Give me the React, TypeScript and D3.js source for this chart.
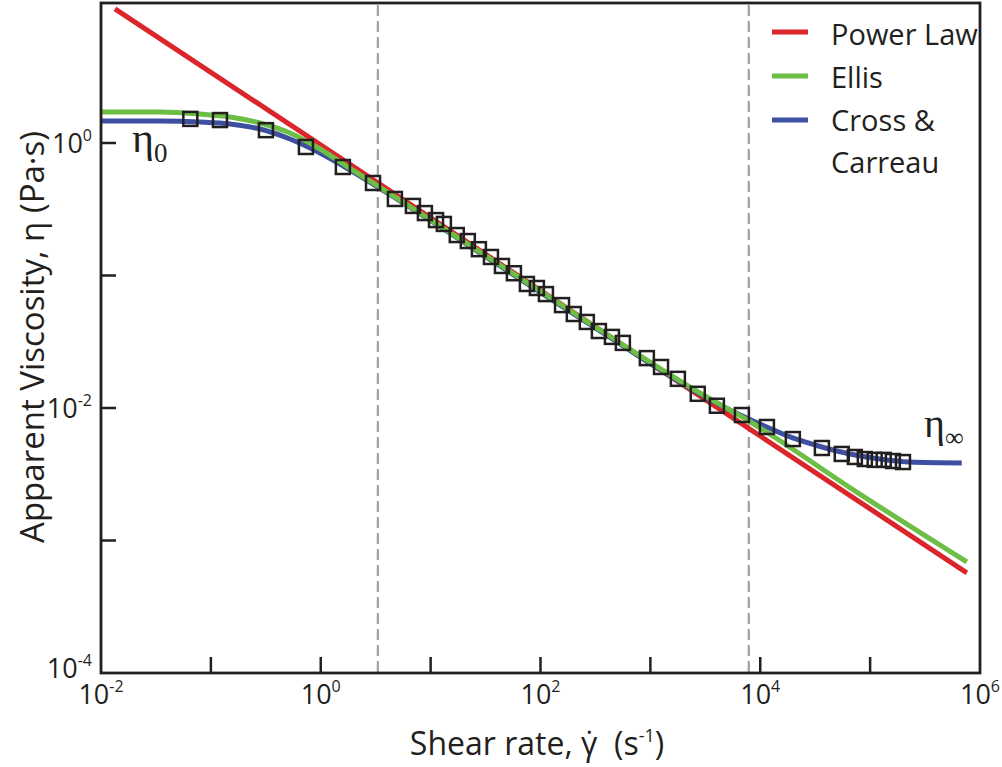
import React from "react";
import * as d3 from "d3";

// ---------- data ----------
const xTickValues = [0.1, 1, 10, 100, 1000, 1e4, 1e5];
const xLabelExps = [-2, 0, 2, 4, 6];
const yTickValues = [1, 0.1, 0.01, 0.001];
const yLabelExps = [0, -2, -4];

// measured data (shear rate, viscosity)
const dataShear = [
  0.065, 0.121, 0.317, 0.733, 1.59, 2.99, 4.73, 6.9, 8.87, 11.2, 13.2, 17.3, 21.8,
  27.5, 35.4, 44.6, 57.3, 75.2, 92.7, 112, 157, 201, 264, 340, 447, 562, 929, 1250,
  1780, 2700, 4030, 6810, 11500, 19800, 36400, 55200, 72600, 89500, 110000, 133000,
  161000, 199000,
];
const dataVisc = [
  1.52, 1.49, 1.25, 0.933, 0.659, 0.499, 0.378, 0.335, 0.296, 0.262, 0.245, 0.202,
  0.182, 0.158, 0.138, 0.118, 0.104, 0.0863, 0.0805, 0.0724, 0.0598, 0.0512, 0.0446,
  0.0381, 0.0344, 0.031, 0.0238, 0.0204, 0.0166, 0.0128, 0.0104, 0.00885, 0.00719,
  0.00583, 0.00499, 0.0045, 0.00427, 0.00412, 0.00406, 0.00406, 0.00398, 0.00391,
];

// Power law fit (straight in log-log)
const powerShear = [0.0134, 759000];
const powerVisc = [10.3, 0.000569];

// Ellis fit
const ellisShear = [0.01, 0.0344, 0.0796, 0.149, 0.28, 0.525, 0.984, 1.66, 5.26, 42.8, 348, 2820, 7870, 80500, 759000];
const ellisVisc = [1.714, 1.714, 1.655, 1.571, 1.416, 1.19, 0.901, 0.682, 0.371, 0.12, 0.0388, 0.013, 0.00798, 0.00224, 0.000689];

// Cross & Carreau fit
const crossShear = [0.01, 0.0344, 0.0796, 0.149, 0.28, 0.525, 0.984, 1.66, 5.26, 42.8, 348, 2820, 5280, 9910, 19800, 36400, 65500, 122000, 230000, 682000];
const crossVisc = [1.466, 1.466, 1.44, 1.391, 1.275, 1.072, 0.84, 0.659, 0.365, 0.118, 0.0381, 0.0128, 0.00966, 0.00757, 0.00594, 0.00508, 0.0045, 0.00412, 0.00391, 0.00385];

// regime boundaries (dashed)
const boundaries = [3.31, 7870];

const legendNames = ["Power Law", "Ellis", "Cross &"];
const legendColors = ["#da252a", "#6cbe45", "#3d4fa1"];

// ---------- layout ----------
const W = 1002;
const H = 767;
const left = 101;
const right = 980;
const top = 3;
const bottom = 673;

const x = d3.scaleLog().domain([1e-2, 1e6]).range([left, right]);
const y = d3.scaleLog().domain([1e-4, Math.pow(10, (bottom - top) / 132.5 - 4)]).range([bottom, top]);

const ink = "#231f20";
const font = "'Open Sans', 'Noto Sans', sans-serif";
const serif = "'Liberation Serif', 'DejaVu Serif', serif";

const zip = (a: number[], b: number[]) => a.map((v, i) => [v, b[i]] as [number, number]);

const line = d3
  .line<[number, number]>()
  .x((d) => x(d[0]))
  .y((d) => y(d[1]))
  .curve(d3.curveMonotoneX);

export default function App() {
  const series = [
    { pts: zip(powerShear, powerVisc), color: legendColors[0] },
    { pts: zip(crossShear, crossVisc), color: legendColors[2] },
    { pts: zip(ellisShear, ellisVisc), color: legendColors[1] },
  ];
  const data = zip(dataShear, dataVisc);
  const sq = 14;
  return (
    <svg
      width={W}
      height={H}
      style={{ position: "absolute", left: 0, top: 0, background: "#fff" }}
      fontFamily={font}
    >
      {/* dashed boundaries */}
      {boundaries.map((b, i) => (
        <line
          key={"b" + i}
          x1={x(b)}
          x2={x(b)}
          y1={top + 2}
          y2={bottom}
          stroke="#a3a3a8"
          strokeWidth={2.3}
          strokeDasharray="11 5"
        />
      ))}

      {/* fitted curves */}
      {series.map((s, i) => (
        <path key={"s" + i} d={line(s.pts) || ""} fill="none" stroke={s.color} strokeWidth={5} />
      ))}

      {/* data squares */}
      {data.map((d, i) => (
        <rect
          key={"d" + i}
          x={x(d[0]) - sq / 2}
          y={y(d[1]) - sq / 2}
          width={sq}
          height={sq}
          fill="none"
          stroke={ink}
          strokeWidth={2.5}
        />
      ))}

      {/* frame */}
      <rect x={left} y={top} width={right - left} height={bottom - top} fill="none" stroke={ink} strokeWidth={2.8} />

      {/* x ticks */}
      {xTickValues.map((v, i) => (
        <line key={"xt" + i} x1={x(v)} x2={x(v)} y1={bottom} y2={bottom - 16} stroke={ink} strokeWidth={2.5} />
      ))}
      {/* y ticks */}
      {yTickValues.map((v, i) => (
        <line key={"yt" + i} x1={left} x2={left + 15} y1={y(v)} y2={y(v)} stroke={ink} strokeWidth={2.5} />
      ))}

      {/* x tick labels */}
      {xLabelExps.map((e, i) => (
        <text key={"xl" + i} x={x(Math.pow(10, e))} y={704} textAnchor="middle" fontSize={27} fill={ink}>
          10
          <tspan fontSize={16} dy={-12}>
            {String(e)}
          </tspan>
        </text>
      ))}
      {/* y tick labels */}
      {yLabelExps.map((e, i) => (
        <text
          key={"yl" + i}
          x={92}
          y={Math.min(y(Math.pow(10, e)) + 10, 678)}
          textAnchor="end"
          fontSize={27}
          fill={ink}
        >
          10
          <tspan fontSize={16} dy={-12}>
            {String(e)}
          </tspan>
        </text>
      ))}

      {/* axis titles */}
      <text x={537} y={755} textAnchor="middle" fontSize={32} fill={ink}>
        Shear rate, γ̇{"\u00a0\u00a0"}(s
        <tspan fontSize={18} dy={-13}>
          -1
        </tspan>
        <tspan dy={13}>)</tspan>
      </text>
      <text
        transform={`translate(44, 337) rotate(-90)`}
        textAnchor="middle"
        fontSize={33}
        fill={ink}
      >
        Apparent Viscosity, η (Pa·s)
      </text>

      {/* eta labels */}
      <text x={132} y={152} fontFamily={serif} fontSize={42} fill={ink}>
        η
        <tspan fontSize={27} dy={10}>
          0
        </tspan>
      </text>
      <text x={924} y={437} fontFamily={serif} fontSize={40} fill={ink}>
        η
        <tspan fontSize={26} dy={9}>
          ∞
        </tspan>
      </text>

      {/* legend */}
      {legendNames.map((n, i) => (
        <g key={"lg" + i}>
          <line x1={772} x2={808} y1={32 + i * 44} y2={32 + i * 44} stroke={legendColors[i]} strokeWidth={5} />
          <text x={831} y={45 + i * 43} fontSize={29} fill={ink}>
            {n}
          </text>
        </g>
      ))}
      <text x={831} y={173} fontSize={29} fill={ink}>
        Carreau
      </text>
    </svg>
  );
}
